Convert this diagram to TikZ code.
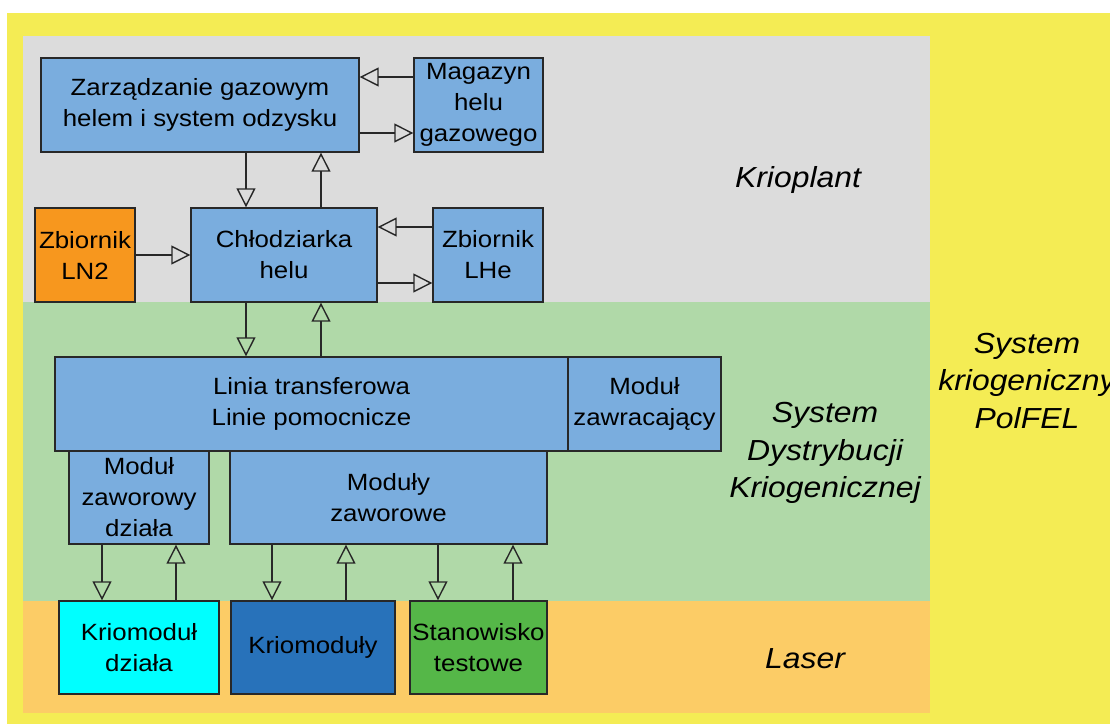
\documentclass[tikz,border=0pt]{standalone}
\usepackage{fontspec}
\setmainfont[FakeStretch=1.1]{Liberation Sans}
\usetikzlibrary{arrows.meta}

\definecolor{outeryellow}{RGB}{244,236,84}
\definecolor{plantgray}{RGB}{220,220,220}
\definecolor{distgreen}{RGB}{176,217,168}
\definecolor{laserorange}{RGB}{252,204,102}
\definecolor{boxblue}{RGB}{122,173,222}
\definecolor{tankorange}{RGB}{247,151,30}
\definecolor{gunCyan}{RGB}{0,255,255}
\definecolor{cmblue}{RGB}{40,114,186}
\definecolor{testgreen}{RGB}{85,183,72}
\definecolor{edge}{RGB}{40,40,40}

\begin{document}
\begin{tikzpicture}[x=1pt,y=-1pt,
  box/.style={draw=edge, line width=1.4pt, fill=boxblue, inner sep=0pt,
    align=center, text=black, font=\fontsize{23.5}{31}\selectfont},
  zone/.style={align=center, text=black, font=\fontsize{29}{37.5}\selectfont\itshape},
  flow/.style={draw=edge, line width=1.4pt,
    -{Triangle[open, length=19pt, width=19pt, line width=1.4pt]}}
]
\useasboundingbox (0,0) rectangle (1110,724);

% background bands
\fill[white] (0,0) rectangle (1110,724);
\fill[outeryellow] (7,13) rectangle (1110,724);
\fill[plantgray] (23,36) rectangle (930,302);
\fill[distgreen] (23,302) rectangle (930,601);
\fill[laserorange] (23,601) rectangle (930,713);

% band labels
\node[zone, anchor=base] (lplant) at (798,187) {Krioplant};
\node[zone] (ldist) at (825,453) {System\\Dystrybucji\\Kriogenicznej};
\node[zone, anchor=base] (llaser) at (805,668) {Laser};
\node[zone] (lsys) at (1027,381) {System\\kriogeniczny\\PolFEL};

% krioplant
\node[box, minimum width=318pt, minimum height=94pt] (zarz) at (200,105)
  {Zarządzanie gazowym\\helem i system odzysku};
\node[box, minimum width=129pt, minimum height=94pt] (mag) at (478.5,105)
  {Magazyn\\helu\\gazowego};
\node[box, fill=tankorange, minimum width=100pt, minimum height=94pt] (ln2) at (85,255)
  {Zbiornik\\LN2};
\node[box, minimum width=186pt, minimum height=94pt] (chl) at (284,255)
  {Chłodziarka\\helu};
\node[box, minimum width=110pt, minimum height=94pt] (lhe) at (488,255)
  {Zbiornik\\LHe};

% distribution system
\node[box, minimum width=513pt, minimum height=94pt] (linia) at (311.5,404)
  {Linia transferowa\\Linie pomocnicze};
\node[box, minimum width=153pt, minimum height=94pt] (zawr) at (644.5,404)
  {Moduł\\zawracający};
\node[box, minimum width=140pt, minimum height=93pt] (mzd) at (139,497.5)
  {Moduł\\zaworowy\\działa};
\node[box, minimum width=317pt, minimum height=93pt] (mz) at (388.5,497.5)
  {Moduły\\zaworowe};

% laser
\node[box, fill=gunCyan, minimum width=160pt, minimum height=93pt] (kd) at (139,647.5)
  {Kriomoduł\\działa};
\node[box, fill=cmblue, minimum width=164pt, minimum height=93pt] (km) at (313,647.5)
  {Kriomoduły};
\node[box, fill=testgreen, minimum width=137pt, minimum height=93pt] (st) at (478.5,647.5)
  {Stanowisko\\testowe};

% helium flows
\draw[flow] (mag.west |- 0,77) -- (zarz.east |- 0,77);
\draw[flow] (zarz.east |- 0,133) -- (mag.west |- 0,133);
\draw[flow] (zarz.south -| 246,0) -- (chl.north -| 246,0);
\draw[flow] (chl.north -| 321,0) -- (zarz.south -| 321,0);
\draw[flow] (ln2.east) -- (chl.west);
\draw[flow] (lhe.west |- 0,227) -- (chl.east |- 0,227);
\draw[flow] (chl.east |- 0,283) -- (lhe.west |- 0,283);
\draw[flow] (chl.south -| 246,0) -- (linia.north -| 246,0);
\draw[flow] (linia.north -| 321,0) -- (chl.south -| 321,0);
\draw[flow] (mzd.south -| 102,0) -- (kd.north -| 102,0);
\draw[flow] (kd.north -| 176,0) -- (mzd.south -| 176,0);
\draw[flow] (mz.south -| 272,0) -- (km.north -| 272,0);
\draw[flow] (km.north -| 346,0) -- (mz.south -| 346,0);
\draw[flow] (mz.south -| 438,0) -- (st.north -| 438,0);
\draw[flow] (st.north -| 513,0) -- (mz.south -| 513,0);
\end{tikzpicture}
\end{document}
